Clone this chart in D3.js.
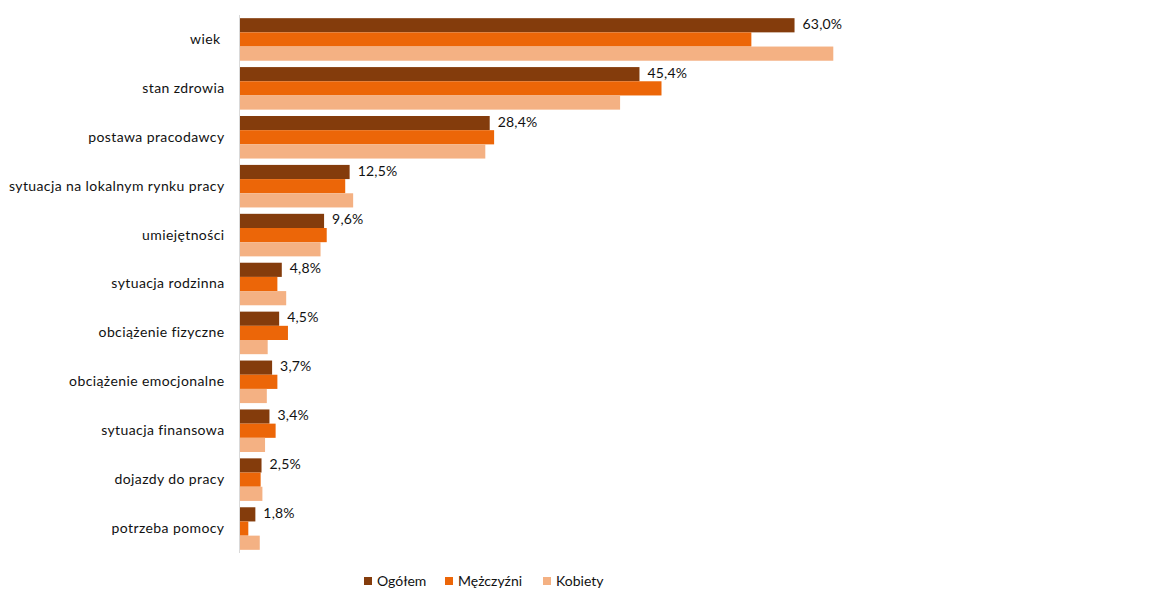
<!DOCTYPE html>
<html>
<head>
<meta charset="utf-8">
<script src="https://cdn.jsdelivr.net/npm/d3@7"></script>
<style>
  body { margin: 0; background: #fff; }
  text { font-family: Lato, "Open Sans", sans-serif; }
</style>
</head>
<body>
<svg id="chart" width="1152" height="595"></svg>
<script>
// categories and series
const categories = [
    "wiek ",
    "stan zdrowia",
    "postawa pracodawcy",
    "sytuacja na lokalnym rynku pracy",
    "umiejętności",
    "sytuacja rodzinna",
    "obciążenie fizyczne",
    "obciążenie emocjonalne",
    "sytuacja finansowa",
    "dojazdy do pracy",
    "potrzeba pomocy"
];
const seriesNames = ["Ogółem", "Mężczyźni", "Kobiety"];
const ogolem    = [63.0, 45.4, 28.4, 12.5, 9.6, 4.8, 4.5, 3.7, 3.4, 2.5, 1.8];
const mezczyzni = [58.1, 47.9, 28.9, 12.0, 9.9, 4.3, 5.5, 4.3, 4.1, 2.4, 1.0];
const kobiety   = [67.4, 43.2, 27.9, 12.9, 9.2, 5.3, 3.2, 3.1, 2.9, 2.6, 2.3];
const seriesValues = [ogolem, mezczyzni, kobiety];
const colours = ["#843C0C", "#EC6608", "#F4B183"];

//dimensions
const plot = { left: 239.5, top: 15, bottom: 553 };
const pxPerPct = 8.81;
const fontSize = "14px";

const svg = d3.select("#chart");

const x = d3.scaleLinear()
    .domain([0, 100])
    .range([plot.left, plot.left + 100 * pxPerPct]);

const y = d3.scaleBand()
    .domain(categories)
    .range([plot.top, plot.bottom])
    .paddingInner(0.13)
    .paddingOuter(0.065);

const ySub = d3.scaleBand()
    .domain(seriesNames)
    .range([0, y.bandwidth()]);

const rows = categories.map((c, i) => ({
    category: c,
    values: seriesNames.map((s, j) => ({ series: s, idx: j, value: seriesValues[j][i] }))
}));

//bars
const groups = svg.append("g").attr("class", "groups")
    .selectAll("g.group")
    .data(rows)
    .enter()
    .append("g")
        .attr("class", "group")
        .attr("transform", d => "translate(0," + y(d.category) + ")");

groups.selectAll("rect")
    .data(d => d.values)
    .enter()
    .append("rect")
        .attr("x", x(0))
        .attr("y", d => ySub(d.series))
        .attr("width", d => x(d.value) - x(0))
        .attr("height", ySub.bandwidth())
        .attr("fill", d => colours[d.idx]);

//value labels for Ogółem
groups.append("text")
    .attr("x", d => x(d.values[0].value) + 8)
    .attr("y", ySub(seriesNames[0]) + ySub.bandwidth() / 2)
    .attr("dominant-baseline", "middle")
    .style("font-size", fontSize)
    .style("letter-spacing", "0.2px")
    .attr("fill", "#111")
    .text(d => d3.format(".1f")(d.values[0].value).replace(".", ",") + "%");

//axis
const yAxis = d3.axisLeft(y).tickSize(0).tickPadding(15);
const axisG = svg.append("g")
    .attr("transform", "translate(" + x(0) + ",0)")
    .call(yAxis);
axisG.select(".domain")
    .attr("stroke", "#D9D9D9")
    .attr("d", "M0," + plot.top + "V" + plot.bottom);
axisG.selectAll(".tick text")
    .style("font-size", fontSize)
    .style("font-family", "Lato, 'Open Sans', sans-serif")
    .style("letter-spacing", "0.4px")
    .style("white-space", "pre")
    .attr("fill", "#111");

//legend
const legendX = [364, 445, 543];
const legend = svg.append("g").attr("class", "legend")
    .selectAll("g")
    .data(seriesNames)
    .enter()
    .append("g")
        .attr("transform", (d, i) => "translate(" + legendX[i] + ",577)");
legend.append("rect")
    .attr("width", 8)
    .attr("height", 8)
    .attr("fill", (d, i) => colours[i]);
legend.append("text")
    .attr("x", 13)
    .attr("y", 5)
    .attr("dominant-baseline", "middle")
    .style("font-size", fontSize)
    .attr("fill", "#111")
    .text(d => d);
</script>
</body>
</html>
